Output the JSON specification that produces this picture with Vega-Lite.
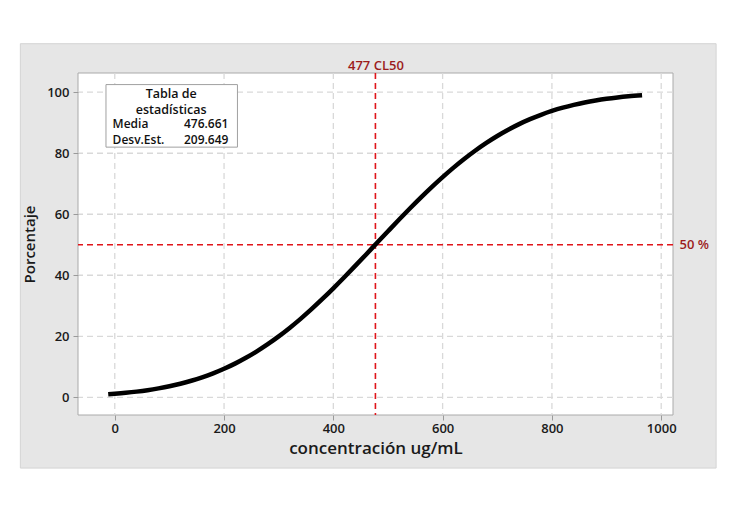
{
  "$schema": "https://vega.github.io/schema/vega-lite/v6.json",
  "width": 595,
  "height": 342,
  "autosize": {"type": "none"},
  "padding": {"left": 78, "top": 73, "right": 69, "bottom": 97},
  "background": "white",
  "config": {
    "view": {"stroke": null},
    "font": "Open Sans",
    "axis": {
      "domain": false,
      "grid": false,
      "tickColor": "#9a9a9a",
      "tickSize": 5,
      "labelFont": "Open Sans",
      "labelFontSize": 13,
      "labelFontWeight": 600,
      "labelColor": "#1a1a1a",
      "labelFlush": false,
      "labelOverlap": false,
      "labelBound": false,
      "titleFont": "Open Sans",
      "titleFontWeight": 600,
      "titleColor": "#1a1a1a"
    }
  },
  "resolve": {"axis": {"x": "independent", "y": "independent"}},
  "layer": [
    {
      "data": {"values": [{}]},
      "mark": {"type": "rect", "fill": "#e6e6e6", "stroke": "#d4d4d4", "strokeWidth": 1, "clip": false},
      "encoding": {
        "x": {"datum": -172.8, "type": "quantitative", "scale": {"domain": [-67.3, 1021.6], "nice": false, "zero": false}, "axis": null},
        "x2": {"datum": 1100.5},
        "y": {"datum": -23.2, "type": "quantitative", "scale": {"domain": [-5.8, 106.3], "nice": false, "zero": false}, "axis": null},
        "y2": {"datum": 115.9}
      }
    },
    {
      "data": {"values": [{}]},
      "mark": {"type": "rect", "fill": "white", "stroke": "#aaaaaa", "strokeWidth": 1, "clip": false},
      "encoding": {
        "x": {"datum": -67.3, "type": "quantitative", "scale": {"domain": [-67.3, 1021.6], "nice": false, "zero": false}, "axis": null},
        "x2": {"datum": 1021.6},
        "y": {"datum": -5.8, "type": "quantitative", "scale": {"domain": [-5.8, 106.3], "nice": false, "zero": false}, "axis": null},
        "y2": {"datum": 106.3}
      }
    },
    {
      "data": {"values": [{"g": 0}, {"g": 200}, {"g": 400}, {"g": 600}, {"g": 800}, {"g": 1000}]},
      "mark": {"type": "rule", "color": "#d9d9d9", "strokeWidth": 1.3, "strokeDash": [6, 4]},
      "encoding": {
        "x": {"field": "g", "type": "quantitative", "scale": {"domain": [-67.3, 1021.6], "nice": false, "zero": false}, "axis": null}
      }
    },
    {
      "data": {"values": [{"g": 0}, {"g": 20}, {"g": 40}, {"g": 60}, {"g": 80}, {"g": 100}]},
      "mark": {"type": "rule", "color": "#d9d9d9", "strokeWidth": 1.3, "strokeDash": [6, 4]},
      "encoding": {
        "y": {"field": "g", "type": "quantitative", "scale": {"domain": [-5.8, 106.3], "nice": false, "zero": false}, "axis": null}
      }
    },
    {
      "data": {"values": [{"cl50": 477}]},
      "mark": {"type": "rule", "color": "#e0151b", "strokeWidth": 1.6, "strokeDash": [6, 4]},
      "encoding": {
        "x": {"field": "cl50", "type": "quantitative", "scale": {"domain": [-67.3, 1021.6], "nice": false, "zero": false},
          "axis": {"orient": "top", "values": [477], "labelExpr": "'477 CL50'", "ticks": false, "tickSize": 0, "labelPadding": 1, "labelColor": "#9c1c1c", "title": null, "zindex": 1}}
      }
    },
    {
      "data": {"values": [{"p": 50}]},
      "mark": {"type": "rule", "color": "#e0151b", "strokeWidth": 1.6, "strokeDash": [6, 4]},
      "encoding": {
        "y": {"field": "p", "type": "quantitative", "scale": {"domain": [-5.8, 106.3], "nice": false, "zero": false},
          "axis": {"orient": "right", "values": [50], "labelExpr": "datum.value + ' %'", "ticks": false, "tickSize": 0, "labelPadding": 6, "labelColor": "#9c1c1c", "title": null, "zindex": 1}}
      }
    },
    {
      "data": {"values": [
        {"x": -12, "y": 0.98}, {"x": 0, "y": 1.15}, {"x": 20, "y": 1.47}, {"x": 40, "y": 1.86}, {"x": 60, "y": 2.34},
        {"x": 80, "y": 2.93}, {"x": 100, "y": 3.62}, {"x": 120, "y": 4.45}, {"x": 140, "y": 5.42}, {"x": 160, "y": 6.55},
        {"x": 180, "y": 7.85}, {"x": 200, "y": 9.35}, {"x": 220, "y": 11.04}, {"x": 240, "y": 12.95}, {"x": 260, "y": 15.07},
        {"x": 280, "y": 17.41}, {"x": 300, "y": 19.97}, {"x": 320, "y": 22.74}, {"x": 340, "y": 25.72}, {"x": 360, "y": 28.89},
        {"x": 380, "y": 32.24}, {"x": 400, "y": 35.73}, {"x": 420, "y": 39.35}, {"x": 440, "y": 43.06}, {"x": 460, "y": 46.83},
        {"x": 480, "y": 50.64}, {"x": 500, "y": 54.43}, {"x": 520, "y": 58.19}, {"x": 540, "y": 61.87}, {"x": 560, "y": 65.45},
        {"x": 580, "y": 68.90}, {"x": 600, "y": 72.18}, {"x": 620, "y": 75.29}, {"x": 640, "y": 78.20}, {"x": 660, "y": 80.91},
        {"x": 680, "y": 83.40}, {"x": 700, "y": 85.66}, {"x": 720, "y": 87.71}, {"x": 740, "y": 89.55}, {"x": 760, "y": 91.17},
        {"x": 780, "y": 92.60}, {"x": 800, "y": 93.85}, {"x": 820, "y": 94.93}, {"x": 840, "y": 95.85}, {"x": 860, "y": 96.63},
        {"x": 880, "y": 97.28}, {"x": 900, "y": 97.83}, {"x": 920, "y": 98.28}, {"x": 940, "y": 98.65}, {"x": 965, "y": 99.01}
      ]},
      "mark": {"type": "line", "color": "black", "strokeWidth": 4.5, "interpolate": "monotone"},
      "encoding": {
        "x": {"field": "x", "type": "quantitative", "scale": {"domain": [-67.3, 1021.6], "nice": false, "zero": false},
          "axis": {"values": [0, 200, 400, 600, 800, 1000], "format": "d", "title": "concentración ug/mL", "titleFontSize": 17, "labelPadding": 2, "titlePadding": 5, "zindex": 1}},
        "y": {"field": "y", "type": "quantitative", "scale": {"domain": [-5.8, 106.3], "nice": false, "zero": false},
          "axis": {"values": [0, 20, 40, 60, 80, 100], "title": "Porcentaje", "titleFontSize": 15, "labelPadding": 4, "titlePadding": 9, "zindex": 1}}
      }
    },
    {
      "data": {"values": [{}]},
      "mark": {"type": "rect", "fill": "white", "stroke": "#a0a0a0", "strokeWidth": 1, "clip": false},
      "encoding": {
        "x": {"datum": -16.1, "type": "quantitative", "scale": {"domain": [-67.3, 1021.6], "nice": false, "zero": false}, "axis": null},
        "x2": {"datum": 224.5},
        "y": {"datum": 82.0, "type": "quantitative", "scale": {"domain": [-5.8, 106.3], "nice": false, "zero": false}, "axis": null},
        "y2": {"datum": 102.5}
      }
    },
    {
      "data": {"values": [{}]},
      "mark": {"type": "text", "text": ["Tabla de", "estadísticas"], "align": "center", "baseline": "middle", "lineHeight": 15.5, "fontSize": 12.5, "fontWeight": 600, "color": "#111111", "font": "Open Sans"},
      "encoding": {
        "x": {"datum": 103.3, "type": "quantitative", "scale": {"domain": [-67.3, 1021.6], "nice": false, "zero": false}, "axis": null},
        "y": {"datum": 99.3, "type": "quantitative", "scale": {"domain": [-5.8, 106.3], "nice": false, "zero": false}, "axis": null}
      }
    },
    {
      "data": {"values": [{}]},
      "mark": {"type": "text", "text": ["Media", "Desv.Est."], "align": "left", "baseline": "middle", "lineHeight": 15.7, "fontSize": 12, "fontWeight": 600, "color": "#111111", "font": "Open Sans"},
      "encoding": {
        "x": {"datum": -4.0, "type": "quantitative", "scale": {"domain": [-67.3, 1021.6], "nice": false, "zero": false}, "axis": null},
        "y": {"datum": 89.6, "type": "quantitative", "scale": {"domain": [-5.8, 106.3], "nice": false, "zero": false}, "axis": null}
      }
    },
    {
      "data": {"values": [{}]},
      "mark": {"type": "text", "text": ["476.661", "209.649"], "align": "right", "baseline": "middle", "lineHeight": 15.7, "fontSize": 12, "fontWeight": 600, "color": "#111111", "font": "Open Sans"},
      "encoding": {
        "x": {"datum": 208.0, "type": "quantitative", "scale": {"domain": [-67.3, 1021.6], "nice": false, "zero": false}, "axis": null},
        "y": {"datum": 89.6, "type": "quantitative", "scale": {"domain": [-5.8, 106.3], "nice": false, "zero": false}, "axis": null}
      }
    }
  ]
}
